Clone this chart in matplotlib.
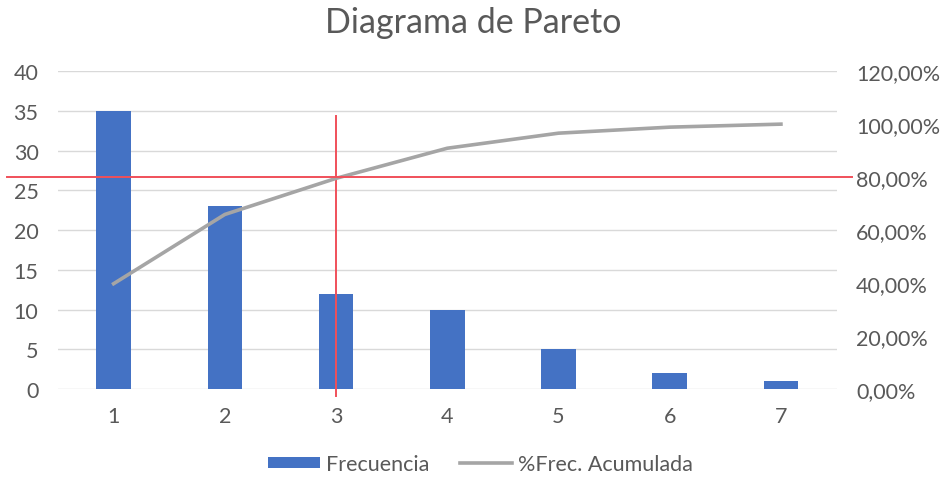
import matplotlib.pyplot as plt
from matplotlib.ticker import FuncFormatter, MultipleLocator
from matplotlib.lines import Line2D
from matplotlib.patches import Patch
import matplotlib.transforms as mtransforms

plt.rcParams['font.family'] = ['Lato', 'DejaVu Sans']

categorias = ['1', '2', '3', '4', '5', '6', '7']
frecuencia = [35, 23, 12, 10, 5, 2, 1]
total = sum(frecuencia)
acumulada = []
s = 0
for f in frecuencia:
    s += f
    acumulada.append(s / total * 100)

gris_texto = '#595959'
azul = '#4472C4'
gris_linea = '#A5A5A5'
rojo = '#F0505A'

fig = plt.figure(figsize=(9.46, 4.81), dpi=100)
ax = fig.add_axes([0.0613, 0.189, 0.823, 0.661])
ax2 = ax.twinx()

x = list(range(len(categorias)))
ax.bar(x, frecuencia, width=0.31, color=azul, zorder=2)
ax2.plot(x, acumulada, color=gris_linea, linewidth=2.6, zorder=3)

ax.set_xlim(-0.5, len(categorias) - 0.5)
ax.set_ylim(0, 40)
ax2.set_ylim(0, 120)
ax.yaxis.set_major_locator(MultipleLocator(5))
ax2.yaxis.set_major_locator(MultipleLocator(20))
ax2.yaxis.set_major_formatter(FuncFormatter(lambda v, p: f"{v:.2f}".replace('.', ',') + '%'))
ax.set_xticks(x)
ax.set_xticklabels(categorias)

ax.grid(axis='y', color='#D9D9D9', linewidth=1, zorder=0)
for a in (ax, ax2):
    for sp in a.spines.values():
        sp.set_visible(False)
    a.tick_params(length=0, labelsize=15.5, colors=gris_texto)
ax.tick_params(axis='y', pad=14)
ax2.tick_params(axis='y', pad=14)
ax.tick_params(axis='x', pad=12)

# lineas de referencia (80% y categoria 3)
trans_h = mtransforms.blended_transform_factory(ax2.transAxes, ax2.transData)
ax2.plot([-0.065, 1.02], [80, 80], transform=trans_h, color=rojo,
         linewidth=1.4, clip_on=False, zorder=4)
ax.plot([2, 2], [-0.9, 34.3], color=rojo, linewidth=1.4, clip_on=False, zorder=4)

fig.suptitle('Diagrama de Pareto', fontsize=24.5, color=gris_texto, y=0.985)

handles = [Patch(facecolor=azul, label='Frecuencia'),
           Line2D([0], [0], color=gris_linea, linewidth=2.6, label='%Frec. Acumulada')]
fig.legend(handles=handles, loc='center', bbox_to_anchor=(0.508, 0.033), ncol=2,
           frameon=False, fontsize=15.5, labelcolor=gris_texto, handlelength=2.4,
           handleheight=0.45, handletextpad=0.3, columnspacing=1.4)

fig.savefig('out.png', dpi=100)
